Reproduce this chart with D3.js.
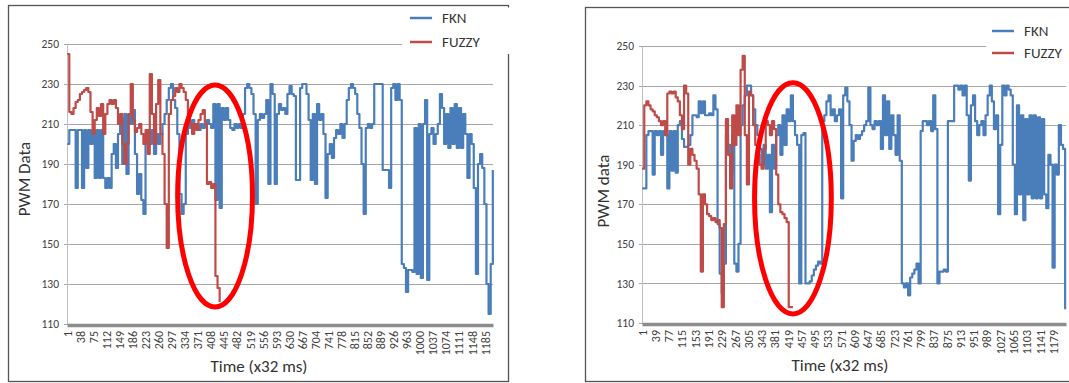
<!DOCTYPE html>
<html>
<head>
<meta charset="utf-8">
<script src="https://cdn.jsdelivr.net/npm/d3@7"></script>
<style>
  body { margin: 0; background: #fff; }
  svg text { font-family: Calibri, Carlito, "Open Sans", sans-serif; }
</style>
</head>
<body>
<svg id="chart"></svg>
<script>
const width = 1069;
const height = 383;

// every value below is one sample per 6 points of the original series
const step = 6;
const countA = 1207;
const countB = 1215;

const seriesNames = ["FKN", "FUZZY"];
const seriesColors = ["#4a7ebb", "#be4b48"];
const yTicks = [110, 130, 150, 170, 190, 210, 230, 250];

const tickLabelsA = [1, 38, 75, 112, 149, 186, 223, 260, 297, 334, 371, 408, 445, 482, 519, 556, 593,
                     630, 667, 704, 741, 778, 815, 852, 889, 926, 963, 1000, 1037, 1074, 1111, 1148, 1185];
const tickLabelsB = [1, 39, 77, 115, 153, 191, 229, 267, 305, 343, 381, 419, 457, 495, 533, 571,
                     609, 647, 685, 723, 761, 799, 837, 875, 913, 951, 989, 1027, 1065, 1103, 1141, 1179];

const fknA = [
  200, 207, 207, 207, 178, 207, 207, 178, 207, 188,
  207, 200, 207, 183, 207, 183, 207, 183, 178, 183,
  178, 195, 200, 188, 205, 213, 190, 215, 185, 215,
  210, 217, 195, 175, 185, 172, 165, 205, 207, 200,
  207, 195, 205, 200, 205, 210, 215, 222, 228, 230,
  222, 218, 205, 175, 165, 170, 205, 210, 208, 212,
  208, 210, 207, 210, 208, 210, 212, 210, 208, 220,
  172, 220, 168, 218, 212, 218, 212, 208, 207, 210,
  208, 210, 208, 215, 228, 230, 228, 225, 215, 170,
  212, 215, 213, 215, 222, 180, 230, 225, 180, 215,
  220, 217, 218, 215, 225, 229, 225, 224, 182, 182,
  228, 230, 230, 225, 212, 182, 215, 180, 220, 212,
  215, 205, 173, 195, 200, 193, 203, 207, 205, 210,
  203, 210, 222, 228, 230, 228, 225, 215, 208, 190,
  165, 208, 210, 208, 210, 230, 230, 230, 230, 187,
  187, 187, 178, 228, 230, 222, 230, 222, 140, 138,
  126, 137, 137, 136, 208, 135, 210, 133, 210, 222,
  132, 205, 208, 200, 205, 210, 225, 218, 200, 215,
  198, 218, 200, 220, 198, 218, 198, 215, 205, 183,
  205, 200, 178, 135, 190, 195, 188, 170, 130, 115,
  140, 187
];

const fuzzyA = [
  245, 216, 215, 218, 221, 222, 225, 226, 227, 228,
  226, 216, 205, 212, 218, 214, 220, 205, 215, 220,
  222, 220, 222, 218, 210, 215, 200, 190, 200, 215,
  230, 212, 206, 208, 210, 205, 200, 207, 195, 235,
  215, 200, 220, 232, 205, 195, 170, 148, 215, 222,
  224, 228, 226, 230, 228, 226, 222, 215, 210, 205,
  210, 207, 212, 215, 217, 210, 180, 181, 178, 180,
  134, 128, 121
];

const fknB = [
  178, 178, 205, 207, 207, 185, 207, 205, 207, 195,
  207, 205, 178, 207, 187, 207, 186, 210, 212, 203,
  199, 199, 200, 205, 215, 215, 214, 222, 216, 222,
  215, 215, 216, 215, 225, 218, 160, 135, 125, 140,
  205, 200, 185, 205, 140, 136, 150, 210, 220, 225,
  230, 230, 225, 218, 210, 205, 198, 190, 200, 188,
  195, 166, 200, 188, 205, 210, 195, 215, 200, 218,
  212, 225, 212, 205, 200, 130, 205, 206, 130, 130,
  131, 134, 137, 139, 141, 140, 212, 215, 222, 225,
  215, 218, 212, 215, 218, 173, 225, 229, 222, 210,
  192, 202, 205, 203, 205, 207, 210, 212, 229, 210,
  208, 212, 210, 212, 198, 225, 205, 222, 198, 215,
  205, 195, 215, 192, 130, 128, 130, 124, 133, 135,
  137, 140, 130, 207, 212, 212, 210, 212, 207, 225,
  208, 130, 136, 136, 137, 136, 212, 212, 212, 230,
  230, 228, 230, 225, 230, 215, 182, 220, 225, 212,
  205, 210, 212, 205, 215, 225, 230, 222, 208, 215,
  165, 200, 230, 225, 230, 228, 225, 190, 165, 220,
  175, 215, 162, 213, 175, 215, 173, 215, 173, 214,
  173, 213, 175, 168, 195, 190, 138, 190, 185, 210,
  200, 198, 117
];

const fuzzyB = [
  188, 220, 222, 220, 218, 217, 215, 214, 212, 210,
  212, 205, 226, 227, 226, 227, 224, 222, 215, 208,
  230, 226, 190, 198, 195, 192, 188, 175, 136, 175,
  170, 165, 164, 162, 163, 161, 162, 158, 118, 160,
  213, 195, 178, 215, 200, 220, 205, 238, 245, 205,
  180, 227, 225, 210, 200, 195, 190, 188, 198, 212,
  210, 205, 212, 208, 185, 170, 166, 165, 163, 161,
  118, 118, 118
];

// red ellipse annotations, in data units (point index, PWM value, half sizes)
const markA = {i: 420, v: 174, di: 106, dv: 55.5};
const markB = {i: 433, v: 173, di: 110, dv: 58.4};

const panels = [
  {count: countA, ticks: tickLabelsA, series: [fknA, fuzzyA], mark: markA, yTitle: "PWM Data",
   frame: {x: 8.5, y: 5.5, w: 500, h: 376},
   plot: {left: 67, right: 493, top: 44, bottom: 324},
   yTitlePos: [24, 179], xTitlePos: [259, 372],
   legend: {x: 410, ys: [18, 42], boxX: 402}},
  {count: countB, ticks: tickLabelsB, series: [fknB, fuzzyB], mark: markB, yTitle: "PWM data",
   frame: {x: 585.5, y: 7.5, w: 520, h: 374},
   plot: {left: 642, right: 1066, top: 46, bottom: 323},
   yTitlePos: [603, 191], xTitlePos: [840, 371],
   legend: {x: 992, ys: [31, 53], boxX: 986}}
];

const svg = d3.select("#chart")
              .attr("width", width)
              .attr("height", height);

svg.append("rect")
   .attr("width", width)
   .attr("height", height)
   .attr("fill", "#fff");

panels.forEach(function(p) {
  const g = svg.append("g");

  g.append("rect")
   .attr("x", p.frame.x)
   .attr("y", p.frame.y)
   .attr("width", p.frame.w)
   .attr("height", p.frame.h)
   .attr("fill", "#fff")
   .attr("stroke", "#555")
   .attr("stroke-width", 1.3);

  const x = d3.scaleBand()
              .domain(d3.range(1, p.count + 1))
              .range([p.plot.left, p.plot.right]);
  const half = x.bandwidth() / 2;

  const y = d3.scaleLinear()
              .domain([110, 250])
              .range([p.plot.bottom, p.plot.top]);

  // gridlines
  g.append("g")
   .selectAll("line")
   .data(yTicks)
   .enter()
   .append("line")
   .attr("x1", p.plot.left - 3)
   .attr("x2", p.plot.right)
   .attr("y1", d => Math.round(y(d)) + 0.5)
   .attr("y2", d => Math.round(y(d)) + 0.5)
   .attr("stroke", "#a6a6a6")
   .attr("stroke-width", 1.2);

  // y axis
  const yAxis = g.append("g")
                 .attr("transform", "translate(" + p.plot.left + ",0)")
                 .call(d3.axisLeft(y).tickValues(yTicks).tickSize(0).tickPadding(8));
  yAxis.select(".domain").attr("stroke", "#bfbfbf");
  yAxis.selectAll("text")
       .style("font-size", "11.5px")
       .attr("fill", "#404040");

  // x axis (category)
  const xAxis = g.append("g")
                 .attr("transform", "translate(0," + (p.plot.bottom + 1) + ")")
                 .call(d3.axisBottom(x).tickValues(p.ticks).tickSize(0).tickSizeOuter(0));
  xAxis.select(".domain")
       .attr("stroke", "#8c8c8c")
       .attr("stroke-width", 3.5);
  xAxis.selectAll("text")
       .attr("transform", "rotate(-90)")
       .attr("text-anchor", "end")
       .attr("x", -6)
       .attr("y", 0)
       .attr("dy", "0.35em")
       .style("font-size", "12px")
       .attr("fill", "#404040");

  // series
  const line = d3.line()
                 .x(d => x(d.i) + half)
                 .y(d => y(d.v))
                 .curve(d3.curveStepAfter);

  p.series.forEach(function(values, s) {
    const rows = values.map((v, k) => ({i: 1 + k * step, v: v}));
    g.append("path")
     .datum(rows)
     .attr("d", line)
     .attr("fill", "none")
     .attr("stroke", seriesColors[s])
     .attr("stroke-width", 2.2)
     .attr("stroke-linejoin", "round");
  });

  // legend
  g.append("rect")
   .attr("x", p.legend.boxX)
   .attr("y", p.frame.y + 2)
   .attr("width", width - p.legend.boxX)
   .attr("height", p.legend.ys[1] + 10 - p.frame.y)
   .attr("fill", "#fff");

  seriesNames.forEach(function(name, s) {
    g.append("line")
     .attr("x1", p.legend.x)
     .attr("x2", p.legend.x + 22)
     .attr("y1", p.legend.ys[s])
     .attr("y2", p.legend.ys[s])
     .attr("stroke", seriesColors[s])
     .attr("stroke-width", 2.5);
    g.append("text")
     .attr("x", p.legend.x + 32)
     .attr("y", p.legend.ys[s] + 5)
     .style("font-size", "15px")
     .attr("fill", "#333")
     .text(name);
  });

  // axis titles
  g.append("text")
   .attr("transform", "translate(" + p.yTitlePos[0] + "," + p.yTitlePos[1] + ") rotate(-90)")
   .attr("text-anchor", "middle")
   .attr("dy", "0.35em")
   .style("font-size", "17px")
   .attr("fill", "#333")
   .text(p.yTitle);

  g.append("text")
   .attr("x", p.xTitlePos[0])
   .attr("y", p.xTitlePos[1])
   .attr("text-anchor", "middle")
   .style("font-size", "17px")
   .attr("fill", "#333")
   .text("Time (x32 ms)");

  // annotation
  g.append("ellipse")
   .attr("cx", x(p.mark.i) + half)
   .attr("cy", y(p.mark.v))
   .attr("rx", p.mark.di * x.bandwidth())
   .attr("ry", y(p.mark.v - p.mark.dv) - y(p.mark.v))
   .attr("fill", "none")
   .attr("stroke", "#ff0000")
   .attr("stroke-width", 5);
});
</script>
</body>
</html>
